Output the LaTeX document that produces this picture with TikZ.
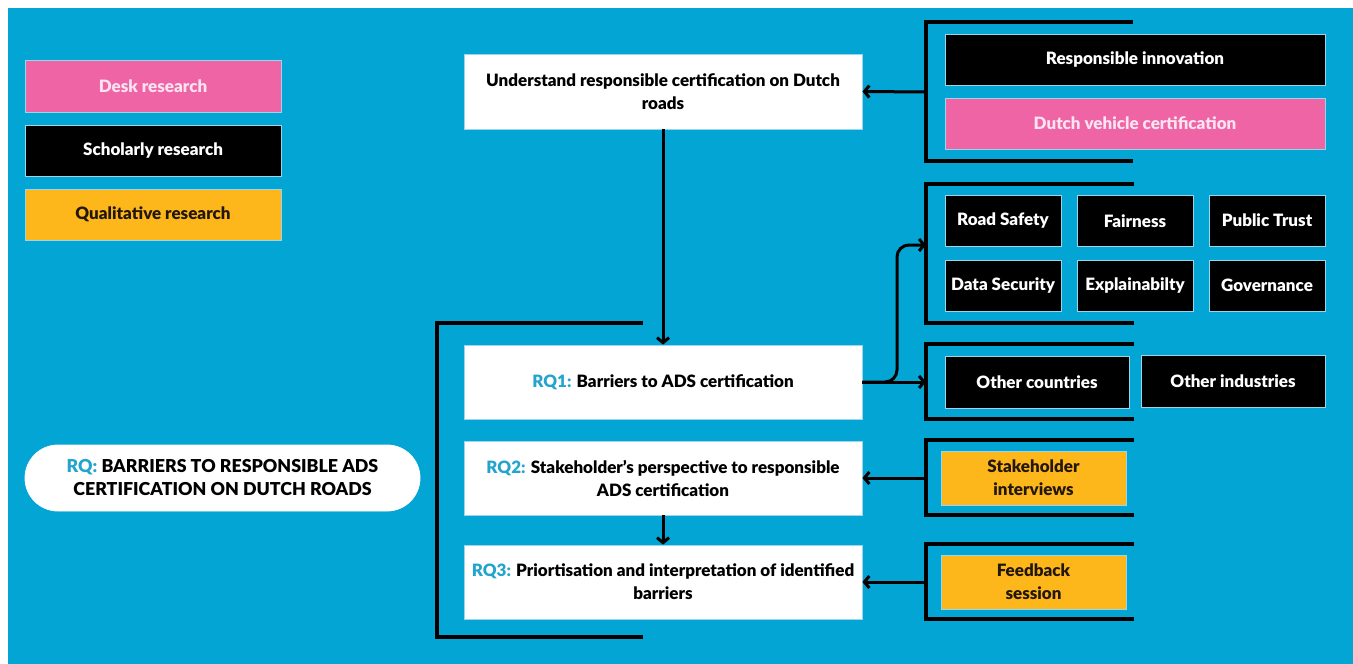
\documentclass[tikz,border=0pt]{standalone}
\usepackage{fontspec}
\setmainfont{Lato}[BoldFont={Lato Black}]
\usetikzlibrary{arrows.meta}
\definecolor{bgblue}{HTML}{03A5D5}
\definecolor{deskpink}{HTML}{EE64A5}
\definecolor{deskfg}{HTML}{FBE4F0}
\definecolor{qualorange}{HTML}{FDB71B}
\definecolor{qualfg}{HTML}{22170A}
\definecolor{rqblue}{HTML}{22A4CC}
\definecolor{edge}{HTML}{9AD6EA}
\tikzset{
  box/.style={rectangle, draw=edge, line width=0.8pt, align=center,
    font=\fontsize{17}{23}\selectfont\bfseries, inner sep=0pt},
  whitebox/.style={box, fill=white, text=black, minimum width=398pt, minimum height=74pt},
  darkbox/.style={box, fill=black, text=white},
  pinkbox/.style={box, fill=deskpink, text=deskfg},
  orangebox/.style={box, fill=qualorange, text=qualfg},
  bracket/.style={line width=4pt, draw=black},
  arr/.style={line width=3pt, draw=black, -{Straight Barb[length=5pt,width=12pt,line width=3pt]}},
}
\newcommand{\rqtag}[1]{\textcolor{rqblue}{#1}}
\begin{document}
\begin{tikzpicture}[x=1pt,y=-1pt]
% background
\fill[white] (0,0) rectangle (1353,664);
\fill[bgblue] (8,8) rectangle (1353,664);
\useasboundingbox (0,0) rectangle (1353,664);

% legend
\node[pinkbox, minimum width=256pt, minimum height=52pt] (desk) at (153,86) {Desk research};
\node[darkbox, minimum width=256pt, minimum height=51pt] (scholar) at (153,150.5) {Scholarly research};
\node[orangebox, minimum width=256pt, minimum height=51pt] (qual) at (153,214.5) {Qualitative research};

% overall research question
\node[box, fill=white, draw=white, minimum width=395pt, minimum height=66pt, rounded corners=33pt,
  font=\fontsize{17.8}{23}\selectfont\bfseries]
  (rq) at (222.5,478) {\rqtag{RQ:} BARRIERS TO RESPONSIBLE ADS\\CERTIFICATION ON DUTCH ROADS};

% main column
\node[whitebox, minimum height=75pt] (top) at (663,91.5) {Understand responsible certification on Dutch\\roads};
\node[whitebox] (rq1) at (663,382) {\rqtag{RQ1:} Barriers to ADS certification};
\node[whitebox] (rq2) at (663,478) {\rqtag{RQ2:} Stakeholder’s perspective to responsible\\ADS certification};
\node[whitebox] (rq3) at (663,582) {\rqtag{RQ3:} Priortisation and interpretation of identified\\barriers};

% bracket around the sub-questions
\draw[bracket] (643,323) -- (437,323) -- (437,637) -- (643,637);

% right-hand groups
\node[darkbox, minimum width=380pt, minimum height=51pt] (ri) at (1135,59.5) {Responsible innovation};
\node[pinkbox, minimum width=380pt, minimum height=51pt] (dvc) at (1135,123.5) {Dutch vehicle certification};
\draw[bracket] (1133,22) -- (926,22) -- (926,161) -- (1133,161);
\coordinate (g1) at (926,92);

\node[darkbox, minimum width=116pt, minimum height=51pt] (safety) at (1003,220.5) {Road Safety};
\node[darkbox, minimum width=116pt, minimum height=51pt] (fair) at (1135,221) {Fairness};
\node[darkbox, minimum width=116pt, minimum height=51pt] (trust) at (1267,220.5) {Public Trust};
\node[darkbox, minimum width=116pt, minimum height=51pt] (data) at (1003,285.5) {Data Security};
\node[darkbox, minimum width=116pt, minimum height=51pt] (explain) at (1135,286) {Explainabilty};
\node[darkbox, minimum width=116pt, minimum height=51pt] (gov) at (1267,285.5) {Governance};
\draw[bracket] (1134,184) -- (926,184) -- (926,323) -- (1134,323);
\coordinate (g2) at (926,245);

\node[darkbox, minimum width=184pt, minimum height=52pt] (countries) at (1037,382) {Other countries};
\node[darkbox, minimum width=184pt, minimum height=52pt] (industries) at (1233,381) {Other industries};
\draw[bracket] (1134,344) -- (926,344) -- (926,419) -- (1134,419);
\coordinate (g3) at (926,382);

\node[orangebox, minimum width=185pt, minimum height=54pt] (interviews) at (1033.5,478) {Stakeholder\\interviews};
\draw[bracket] (1134,440) -- (926,440) -- (926,515) -- (1134,515);
\coordinate (g4) at (926,478);

\node[orangebox, minimum width=185pt, minimum height=54pt] (feedback) at (1033.5,582) {Feedback\\session};
\draw[bracket] (1134,544) -- (926,544) -- (926,619) -- (1134,619);
\coordinate (g5) at (926,582);

% connectors
\draw[arr] (top.south) -- (rq1.north);
\draw[arr] (rq2.south) -- (rq3.north);
\draw[arr] (g1) -- (top.east);
\draw[arr] (g4) -- (rq2.east);
\draw[arr] (g5) -- (rq3.east);
\draw[arr] (rq1.east) -- (g3);
\draw[arr, rounded corners=12pt] (rq1.east) -- (897,382) -- (897,245) -- (g2);
\end{tikzpicture}
\end{document}
